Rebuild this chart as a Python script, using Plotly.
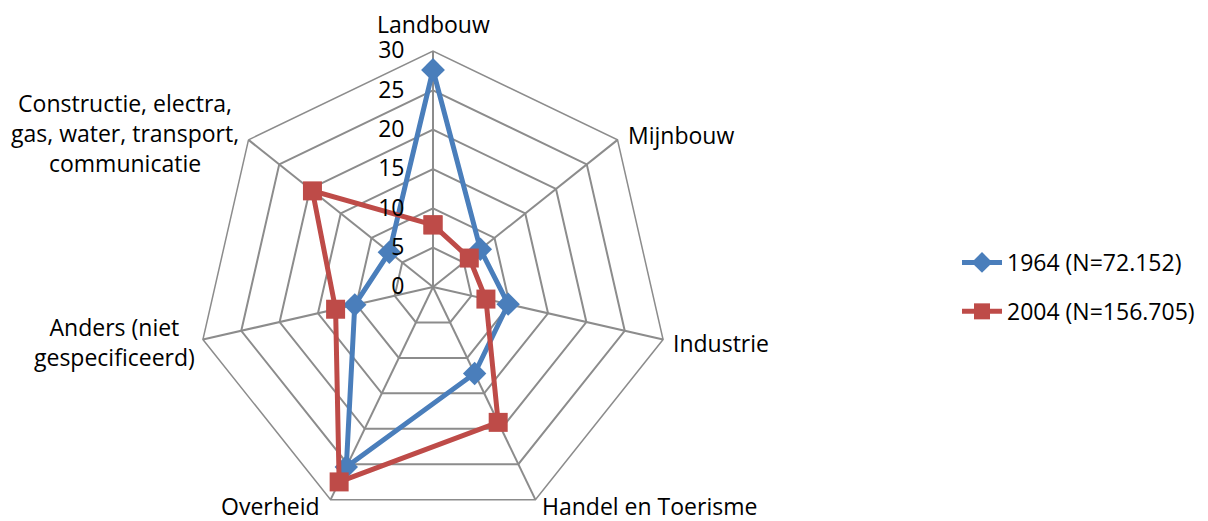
import math
import plotly.graph_objects as go

categories = ["Landbouw", "Mijnbouw", "Industrie", "Handel en Toerisme", "Overheid",
              "Anders (niet<br>gespecificeerd)",
              "Constructie, electra,<br>gas, water, transport,<br>communicatie"]
series_1964 = [27.6, 7.7, 9.8, 12.2, 25.4, 10.2, 7.1]
series_2004 = [7.9, 5.9, 6.9, 19.1, 27.5, 12.7, 19.6]
name_1964 = "1964 (N=72.152)"
name_2004 = "2004 (N=156.705)"
radial_ticks = [0, 5, 10, 15, 20, 25, 30]

FONT = "Open Sans, Lato, sans-serif"
FS = 23
W, H = 1208, 521
PAGE = 8  # default body margin of the html page
CX, CY, R = 433 - PAGE, 287 - PAGE, 236  # polar centre / radius in figure pixels

fig = go.Figure()
fig.add_trace(go.Scatterpolar(
    r=series_1964 + series_1964[:1], theta=categories + categories[:1],
    mode="lines+markers", name=name_1964, legendgroup="a",
    line=dict(color="#4A7EBB", width=5),
    marker=dict(symbol="diamond", size=18, color="#4A7EBB"),
))
fig.add_trace(go.Scatterpolar(
    r=series_2004 + series_2004[:1], theta=categories + categories[:1],
    mode="lines+markers", name=name_2004, legendgroup="b",
    line=dict(color="#BE4B48", width=5),
    marker=dict(symbol="square", size=19, color="#BE4B48"),
))

n = len(categories)
angles = [2 * math.pi * i / n for i in range(n)]
xs = [CX + R * math.sin(a) for a in angles]
ys = [CY - R * math.cos(a) for a in angles]

# category labels as annotations next to the spoke ends
label_style = [  # (xanchor, yanchor, xshift, yshift)
    ("center", "bottom", 0, 9),
    ("left", "middle", 8, 5),
    ("left", "middle", 8, -3),
    ("left", "middle", 5, -6),
    ("right", "middle", -9, -6),
    ("right", "middle", -6, -2),
    ("right", "middle", -7, 7),
]
annotations = []
for cat, x, y, (xa, ya, xsh, ysh) in zip(categories, xs, ys, label_style):
    annotations.append(dict(
        text=cat, x=x / W, y=1 - y / H, xref="paper", yref="paper",
        xanchor=xa, yanchor=ya, xshift=xsh, yshift=ysh, showarrow=False,
        align="center", font=dict(family=FONT, size=FS, color="black"),
    ))

fig.update_layout(
    width=W, height=H,
    margin=dict(l=0, r=0, t=0, b=0),
    paper_bgcolor="white", plot_bgcolor="white",
    font=dict(family=FONT, size=FS, color="black"),
    polar=dict(
        domain=dict(x=[(CX - R) / W, (CX + R) / W],
                    y=[1 - (CY + R) / H, 1 - (CY - R) / H]),
        bgcolor="white",
        gridshape="linear",
        angularaxis=dict(direction="clockwise", rotation=90,
                         gridcolor="#8C8C8C", gridwidth=1.5,
                         linecolor="#8C8C8C", linewidth=1.5,
                         showline=True, ticks="", showticklabels=False),
        radialaxis=dict(range=[0, 30], tickvals=radial_ticks, angle=90,
                        side="counterclockwise", showline=False,
                        ticks="outside", ticklen=20, tickcolor="rgba(0,0,0,0)",
                        gridcolor="#8C8C8C", gridwidth=1.5,
                        tickfont=dict(size=FS), tickangle=90),
    ),
    annotations=annotations,
    legend=dict(x=0.7856, y=0.4645, xanchor="left", yanchor="middle",
                font=dict(size=FS), tracegroupgap=16, itemwidth=40),
)

fig.write_html("out.html")
